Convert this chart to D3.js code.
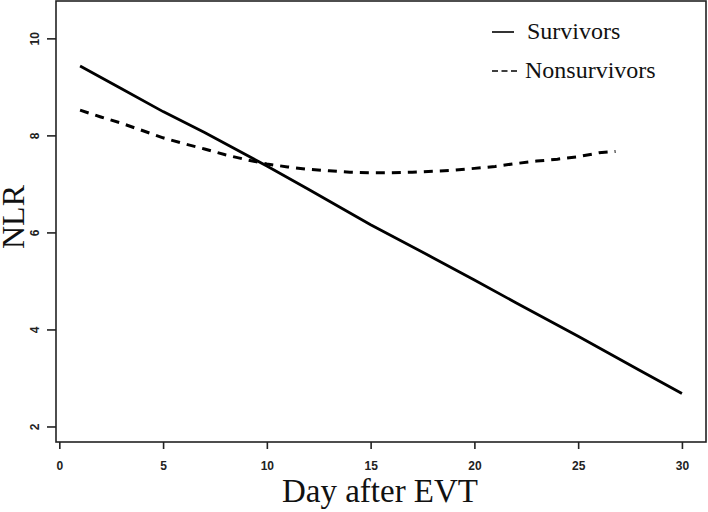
<!DOCTYPE html>
<html><head><meta charset="utf-8">
<script src="https://cdn.jsdelivr.net/npm/d3@7"></script>
<style>body{margin:0;background:#fff}svg{display:block}</style>
</head><body>
<script>
// Data
const survivorsDay = [1, 3, 5, 7, 10, 12, 15, 18, 20, 22, 25, 28, 30];
const survivorsNLR = [9.43, 8.96, 8.49, 8.06, 7.37, 6.89, 6.16, 5.48, 5.02, 4.55, 3.86, 3.15, 2.68];
const nonsurvivorsDay = [1, 2, 3, 4, 5, 6, 7, 8, 9, 10, 11, 12, 13, 14, 15, 16, 17, 18, 19, 20, 21, 22, 23, 24, 25, 26, 26.8];
const nonsurvivorsNLR = [8.52, 8.38, 8.25, 8.10, 7.95, 7.83, 7.72, 7.60, 7.50, 7.41, 7.35, 7.30, 7.27, 7.24, 7.23, 7.23, 7.24, 7.26, 7.28, 7.32, 7.36, 7.42, 7.47, 7.51, 7.56, 7.64, 7.67];
const xTicks = [0, 5, 10, 15, 20, 25, 30];
const yTicks = [2, 4, 6, 8, 10];
const legendLabels = ["Survivors", "Nonsurvivors"];

const W = 708, H = 512;
const box = {l: 56, r: 706, t: 1, b: 442};
const svg = d3.select("body").append("svg").attr("width", W).attr("height", H);

const x = d3.scaleLinear().domain([-0.16, 31.16]).range([box.l, box.r]);
const y = d3.scaleLinear().domain([1.68, 10.77]).range([box.b, box.t]);

// box
svg.append("rect").attr("x", box.l).attr("y", box.t).attr("width", box.r - box.l).attr("height", box.b - box.t)
  .attr("fill", "none").attr("stroke", "#222").attr("stroke-width", 1.6);

// x axis
const gx = svg.append("g").attr("transform", `translate(0,${box.b})`)
  .call(d3.axisBottom(x).tickValues(xTicks).tickSize(7).tickPadding(12).tickFormat(d3.format("d")));
gx.select(".domain").remove();
gx.selectAll(".tick line").attr("stroke", "#222").attr("stroke-width", 1.6);
gx.selectAll(".tick text").attr("font-family", "Liberation Sans, Arial, sans-serif").attr("font-weight", "bold")
  .attr("font-size", 12).attr("fill", "#222");

// y axis
const gy = svg.append("g").attr("transform", `translate(${box.l},0)`)
  .call(d3.axisLeft(y).tickValues(yTicks).tickSize(9).tickFormat(d3.format("d")));
gy.select(".domain").remove();
gy.selectAll(".tick line").attr("stroke", "#222").attr("stroke-width", 1.6);
gy.selectAll(".tick text")
  .attr("font-family", "Liberation Sans, Arial, sans-serif").attr("font-weight", "bold")
  .attr("font-size", 12).attr("fill", "#222")
  .attr("x", null)
  .attr("text-anchor", "middle")
  .attr("transform", "translate(-21,0) rotate(-90)")
  .attr("dy", "0.35em");

// axis titles
svg.append("text").attr("x", 380).attr("y", 502).attr("text-anchor", "middle")
  .attr("font-family", "Liberation Serif, Times New Roman, serif").attr("font-size", 33).attr("fill", "#111")
  .text("Day after EVT");
svg.append("text").attr("transform", "translate(24,217) rotate(-90)").attr("text-anchor", "middle")
  .attr("font-family", "Liberation Serif, Times New Roman, serif").attr("font-size", 32).attr("fill", "#111")
  .text("NLR");

// lines
const line = d3.line().x(d => x(d[0])).y(d => y(d[1]));
const sData = survivorsDay.map((d, i) => [d, survivorsNLR[i]]);
const nData = nonsurvivorsDay.map((d, i) => [d, nonsurvivorsNLR[i]]);
svg.append("path").datum(sData).attr("d", line).attr("fill", "none").attr("stroke", "#000").attr("stroke-width", 2.8);
svg.append("path").datum(nData).attr("d", line).attr("fill", "none").attr("stroke", "#000").attr("stroke-width", 3)
  .attr("stroke-dasharray", "9,7");

// legend
const lg = svg.append("g");
const legendY = [32, 71];
lg.append("line").attr("x1", 492).attr("x2", 514).attr("y1", legendY[0]).attr("y2", legendY[0])
  .attr("stroke", "#000").attr("stroke-width", 1.6);
lg.append("line").attr("x1", 492).attr("x2", 517).attr("y1", legendY[1]).attr("y2", legendY[1])
  .attr("stroke", "#000").attr("stroke-width", 1.6).attr("stroke-dasharray", "6,3.5");
legendLabels.forEach((t, i) => {
  lg.append("text").attr("x", i === 0 ? 527 : 525).attr("y", legendY[i] + 7)
    .attr("font-family", "Liberation Serif, Times New Roman, serif").attr("font-size", 24).attr("fill", "#111")
    .text(t);
});
</script>
</body></html>
